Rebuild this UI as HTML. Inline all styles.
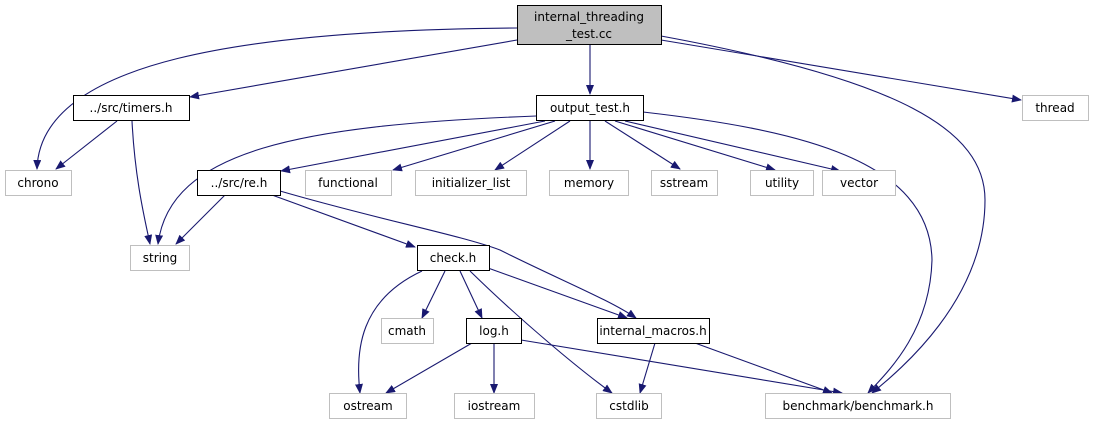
<!DOCTYPE html>
<html><head><style>body{margin:0;background:#fff}svg{display:block}text{font-family:"DejaVu Sans","Liberation Sans",sans-serif;font-size:12px;text-anchor:middle}</style></head><body>
<svg width="1093" height="425" viewBox="0 0 1093 425">
<defs><marker id="a" markerWidth="10" markerHeight="8" refX="9" refY="4" orient="auto" markerUnits="userSpaceOnUse"><path d="M0,0 L10,4 L0,8 z" fill="#191970"/></marker></defs>
<g fill="none" stroke="#191970" stroke-width="1.1" marker-end="url(#a)">
<path d="M517,28 C250,30 40,60 37,169"/>
<path d="M517,40 L190,97"/>
<path d="M590,45 L590,94"/>
<path d="M661,40 L1021,100"/>
<path d="M661,36 C900,80 985,130 985,200 C985,300 900,370 872,393"/>
<path d="M117,121 L56,169"/>
<path d="M132,121 C135,180 145,220 150,244"/>
<path d="M536,116 C300,125 170,150 158,244"/>
<path d="M545,121 L281,171"/>
<path d="M555,121 L393,170"/>
<path d="M570,121 L495,170"/>
<path d="M590,121 L590,169"/>
<path d="M605,121 L680,169"/>
<path d="M615,121 L775,170"/>
<path d="M625,121 L840,171"/>
<path d="M643,112 C800,130 930,160 932,260 C930,330 890,370 868,393"/>
<path d="M225,195 L176,244"/>
<path d="M272,195 L415,247"/>
<path d="M280,191 C380,220 460,235 500,250 C560,280 610,300 636,318"/>
<path d="M422,271 C360,300 355,350 360,393"/>
<path d="M445,271 L422,318"/>
<path d="M460,271 L482,318"/>
<path d="M470,271 C520,320 580,370 612,393"/>
<path d="M488,268 L627,318"/>
<path d="M472,343 L386,393"/>
<path d="M494,343 L494,393"/>
<path d="M521,340 L842,393"/>
<path d="M655,343 L640,393"/>
<path d="M695,343 L832,393"/>
</g>
<g stroke-width="1">
<rect x="517.5" y="5.5" width="144" height="39" fill="#bfbfbf" stroke="#000"/>
<rect x="73.5" y="95.5" width="116" height="25" fill="#fff" stroke="#000"/>
<rect x="536.5" y="95.5" width="107" height="25" fill="#fff" stroke="#000"/>
<rect x="1022.5" y="95.5" width="66" height="25" fill="#fff" stroke="#bfbfbf"/>
<rect x="5.5" y="170.5" width="66" height="25" fill="#fff" stroke="#bfbfbf"/>
<rect x="197.5" y="170.5" width="83" height="25" fill="#fff" stroke="#000"/>
<rect x="305.5" y="170.5" width="86" height="25" fill="#fff" stroke="#bfbfbf"/>
<rect x="415.5" y="170.5" width="111" height="25" fill="#fff" stroke="#bfbfbf"/>
<rect x="549.5" y="170.5" width="79" height="25" fill="#fff" stroke="#bfbfbf"/>
<rect x="651.5" y="170.5" width="66" height="25" fill="#fff" stroke="#bfbfbf"/>
<rect x="750.5" y="170.5" width="63" height="25" fill="#fff" stroke="#bfbfbf"/>
<rect x="822.5" y="170.5" width="73" height="25" fill="#fff" stroke="#bfbfbf"/>
<rect x="130.5" y="245.5" width="59" height="25" fill="#fff" stroke="#bfbfbf"/>
<rect x="417.5" y="245.5" width="72" height="25" fill="#fff" stroke="#000"/>
<rect x="381.5" y="318.5" width="52" height="25" fill="#fff" stroke="#bfbfbf"/>
<rect x="466.5" y="318.5" width="55" height="25" fill="#fff" stroke="#000"/>
<rect x="597.5" y="318.5" width="112" height="25" fill="#fff" stroke="#000"/>
<rect x="329.5" y="393.5" width="77" height="25" fill="#fff" stroke="#bfbfbf"/>
<rect x="454.5" y="393.5" width="80" height="25" fill="#fff" stroke="#bfbfbf"/>
<rect x="596.5" y="393.5" width="65" height="25" fill="#fff" stroke="#bfbfbf"/>
<rect x="765.5" y="393.5" width="185" height="25" fill="#fff" stroke="#bfbfbf"/>
</g>
<g fill="#000">
<text x="589" y="21">internal_threading</text>
<text x="589" y="38">_test.cc</text>
<text x="131" y="112">../src/timers.h</text>
<text x="590" y="112">output_test.h</text>
<text x="1055" y="112">thread</text>
<text x="38" y="187">chrono</text>
<text x="239" y="187">../src/re.h</text>
<text x="348" y="187">functional</text>
<text x="471" y="187">initializer_list</text>
<text x="589" y="187">memory</text>
<text x="684" y="187">sstream</text>
<text x="782" y="187">utility</text>
<text x="859" y="187">vector</text>
<text x="160" y="262">string</text>
<text x="453" y="262">check.h</text>
<text x="407" y="335">cmath</text>
<text x="494" y="335">log.h</text>
<text x="653" y="335">internal_macros.h</text>
<text x="368" y="410">ostream</text>
<text x="494" y="410">iostream</text>
<text x="629" y="410">cstdlib</text>
<text x="858" y="410">benchmark/benchmark.h</text>
</g>
</svg>
</body></html>
